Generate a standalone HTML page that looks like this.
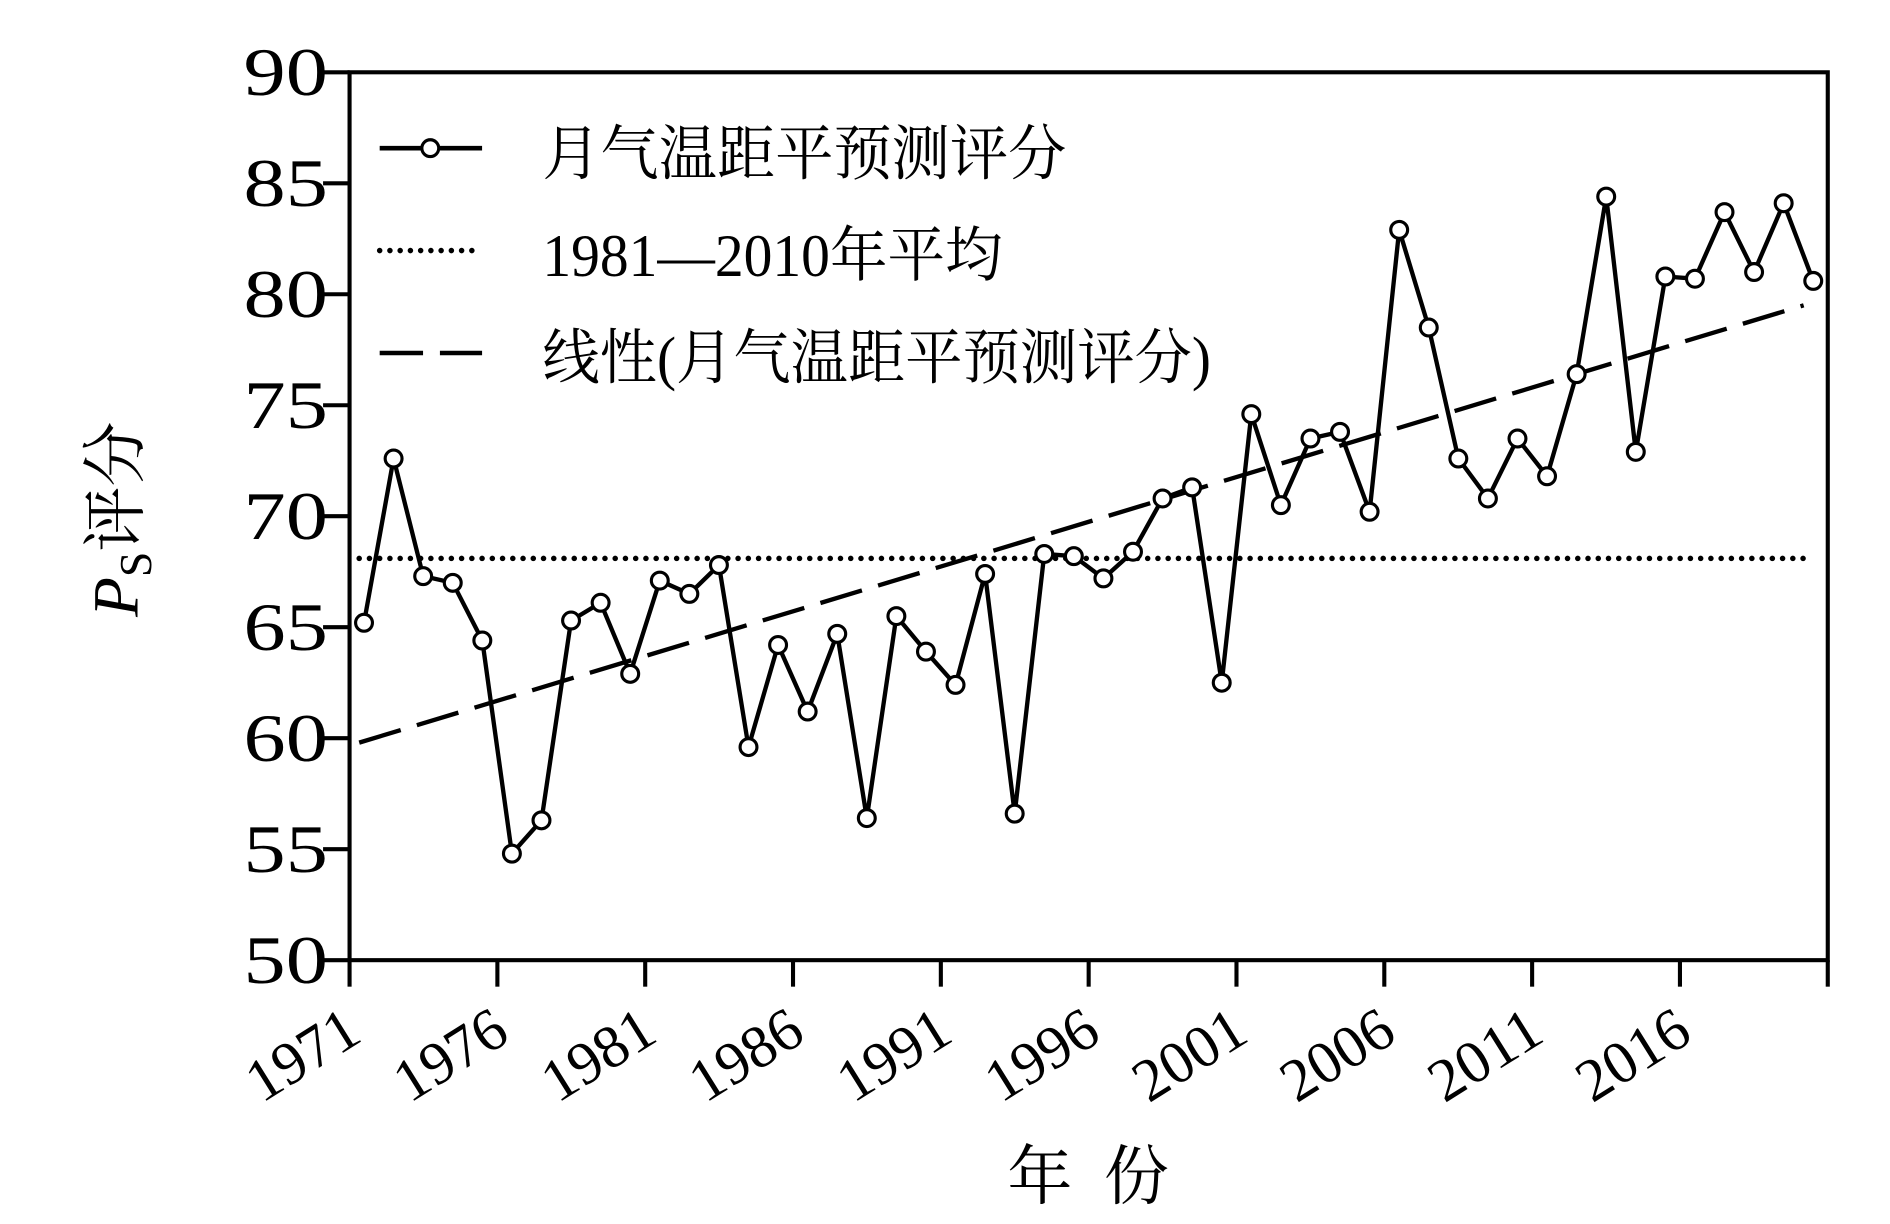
<!DOCTYPE html>
<html><head><meta charset="utf-8"><style>
html,body{margin:0;padding:0;background:#fff;}
svg{display:block;}
text{font-family:"Liberation Serif","Noto Serif CJK SC",serif;fill:#000;}
</style></head><body>
<svg width="1890" height="1224" viewBox="0 0 1568.5 1016" xmlns="http://www.w3.org/2000/svg">
<g id="plot"></g>
<script>
(function(){
var NS="http://www.w3.org/2000/svg",g=document.getElementById("plot");
function el(t,a,txt){var e=document.createElementNS(NS,t);for(var k in a)e.setAttribute(k,a[k]);if(txt!==undefined)e.textContent=txt;g.appendChild(e);return e;}
var X0=290,X1=1517,Y0=797,Y1=60;
function Y(v){return Y0-(v-50)*(Y0-Y1)/40;}
function XY(yr){return X0+(yr-1971)*(X1-X0)/50;}
el("line",{x1:298,y1:Y(68.1),x2:1497,y2:Y(68.1),stroke:"#000","stroke-width":4.6,"stroke-linecap":"round","stroke-dasharray":"0 8.5"});
el("line",{x1:298,y1:Y(59.8),x2:1497,y2:Y(79.5),stroke:"#000","stroke-width":3.6,"stroke-dasharray":"36 14"});
var d=[65.2,72.6,67.3,67.0,64.4,54.8,56.3,65.3,66.1,62.9,67.1,66.5,67.8,59.6,64.2,61.2,64.7,56.4,65.5,63.9,62.4,67.4,56.6,68.3,68.2,67.2,68.4,70.8,71.3,62.5,74.6,70.5,73.5,73.8,70.2,82.9,78.5,72.6,70.8,73.5,71.8,76.4,84.4,72.9,80.8,80.7,83.7,81.0,84.1,80.6];
var pts=d.map(function(v,i){return [302+i*24.55,Y(v)];});
el("polyline",{points:pts.map(function(p){return p.join(",")}).join(" "),fill:"none",stroke:"#000","stroke-width":3.6,"stroke-linejoin":"round"});
pts.forEach(function(p){el("circle",{cx:p[0],cy:p[1],r:7,fill:"#fff",stroke:"#000","stroke-width":2.6});});
el("rect",{x:X0,y:Y1,width:X1-X0,height:Y0-Y1,fill:"none",stroke:"#000","stroke-width":3.4});
for(var v=50;v<=90;v+=5){var y=Y(v);el("line",{x1:X0-22,y1:y,x2:X0,y2:y,stroke:"#000","stroke-width":3.4});
el("text",{x:272,y:y+19,"text-anchor":"end","font-size":56,textLength:70,lengthAdjust:"spacingAndGlyphs"},String(v));}
for(var yr=1971;yr<=2021;yr+=5){var x=XY(yr);el("line",{x1:x,y1:Y0,x2:x,y2:Y0+22,stroke:"#000","stroke-width":3.4});
if(yr<=2016){var tx=x+12,ty=Y0+66;el("text",{x:tx,y:ty,"text-anchor":"end","font-size":50,textLength:100,lengthAdjust:"spacingAndGlyphs",transform:"rotate(-32 "+tx+" "+ty+")"},String(yr));}}
el("text",{x:836,y:995,"font-size":54},"年");
el("text",{x:916,y:995,"font-size":54},"份");
var yl=el("text",{x:0,y:0,"font-size":54,transform:"translate(114 512) rotate(-90)"});
var t1=document.createElementNS(NS,"tspan");t1.setAttribute("font-style","italic");t1.textContent="P";yl.appendChild(t1);
var t2=document.createElementNS(NS,"tspan");t2.setAttribute("font-size","38");t2.setAttribute("dy","11");t2.textContent="S";yl.appendChild(t2);
var t3=document.createElementNS(NS,"tspan");t3.setAttribute("dy","-11");t3.textContent="评分";yl.appendChild(t3);
el("line",{x1:315,y1:123,x2:400,y2:123,stroke:"#000","stroke-width":3.8});
el("circle",{cx:357,cy:123,r:7,fill:"#fff",stroke:"#000","stroke-width":2.6});
el("text",{x:450,y:145,"font-size":50,textLength:435,lengthAdjust:"spacingAndGlyphs"},"月气温距平预测评分");
el("line",{x1:315,y1:208,x2:400,y2:208,stroke:"#000","stroke-width":4.6,"stroke-linecap":"round","stroke-dasharray":"0 8.5"});
el("text",{x:450,y:229,"font-size":50,textLength:382,lengthAdjust:"spacingAndGlyphs"},"1981—2010年平均");
el("line",{x1:315,y1:293,x2:400,y2:293,stroke:"#000","stroke-width":3.8,"stroke-dasharray":"36 14"});
el("text",{x:450,y:314,"font-size":50,textLength:555,lengthAdjust:"spacingAndGlyphs"},"线性(月气温距平预测评分)");
})();
</script>
</svg>
</body></html>
